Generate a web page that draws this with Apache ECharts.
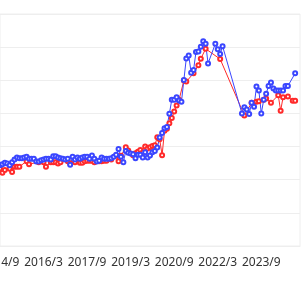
<!DOCTYPE html>
<html>
<head>
<meta charset="utf-8">
<script src="https://cdn.jsdelivr.net/npm/echarts@6/dist/echarts.min.js"></script>
<style>
html,body{margin:0;padding:0;background:#fff;}
#main{width:306px;height:281px;}
</style>
</head>
<body>
<div id="main"></div>
<script>
// Monthly categories 2014/9 .. 2025/1
const categories = [];
for (let y = 2014, m = 9; y < 2025 || (y === 2025 && m <= 1); ) {
  categories.push(y + '/' + m);
  m++; if (m > 12) { m = 1; y++; }
}

const blueValues = [
  24.4,24.7,25.1,24.9,24.4,25.3,26.1,26.7,26.5,26.5,26.7,26.9,
  26.3,26.3,26.3,25.5,25.5,25.9,26.1,26.3,26.3,26.1,27.1,27.1,
  26.7,26.5,26.3,26.1,26.3,24.5,26.9,26.1,26.7,26.3,26.7,26.9,
  26.9,26.3,27.3,26.3,25.5,25.7,26.7,26.3,26.3,26.3,26.5,26.9,
  27.5,29.3,26.9,25.3,28.7,28.1,27.9,27.7,26.5,27.5,27.5,26.7,
  28.3,26.7,27.3,28.3,28.7,29.7,32.7,34.1,35.5,35.9,39.9,44.1,
  44.1,44.9,43.9,43.5,50.1,56.6,57.5,52.3,53.1,58.5,58.7,60.1,
  61.8,61.0,55.1,null,null,61.0,59.4,57.9,60.3,null,null,null,
  null,null,null,null,40.0,41.9,41.2,39.8,43.2,42.0,48.1,46.9,
  40.0,44.1,45.9,48.3,49.3,47.5,46.9,46.9,46.9,46.9,48.3,48.3,
  null,null,52.1,null,null
];

const redValues = [
  23.4,22.1,22.9,null,23.3,22.3,23.9,23.9,23.9,null,null,25.6,
  24.7,null,null,null,25.3,null,25.3,23.9,null,25.3,25.3,25.3,
  24.9,25.3,null,null,25.6,24.9,null,25.3,null,25.1,25.1,25.6,
  25.7,25.7,25.7,25.3,null,25.6,25.6,25.7,25.7,null,26.1,null,
  27.2,25.6,27.2,null,29.8,28.8,null,27.4,28.0,28.4,29.0,28.2,
  30.0,29.4,29.8,30.2,30.4,32.8,32.2,27.4,34.8,35.4,37.0,38.6,
  40.6,42.4,44.1,null,49.9,49.6,null,null,52.1,null,54.5,56.5,
  null,59.5,null,null,null,null,null,56.4,null,null,null,null,
  null,null,null,null,null,39.4,null,null,43.2,null,43.5,43.7,
  null,44.1,44.5,null,43.2,null,null,45.5,40.8,44.9,null,45.1,
  null,43.8,43.8,null,null
];

const chart = echarts.init(document.getElementById('main'), null, {renderer: 'canvas'});
chart.setOption({
  animation: false,
  grid: {left: 0, right: 6, top: 14, bottom: 35, show: true, borderColor: '#eeeeee', borderWidth: 1,
         containLabel: false, outerBoundsMode: 'none'},
  xAxis: {
    type: 'category',
    data: categories,
    boundaryGap: false,
    axisLine: {lineStyle: {color: '#eeeeee'}},
    axisTick: {show: false},
    axisLabel: {interval: 17, color: '#333', fontSize: 12, fontFamily: 'Noto Sans', margin: 11,
                hideOverlap: false},
    splitLine: {show: false}
  },
  yAxis: {
    type: 'value',
    min: 0, max: 70, interval: 10,
    axisLabel: {show: false},
    axisLine: {show: false},
    axisTick: {show: false},
    splitLine: {lineStyle: {color: '#eeeeee'}}
  },
  series: [
    {
      type: 'line', data: redValues, connectNulls: true,
      symbol: 'emptyCircle', symbolSize: 4, showSymbol: true, showAllSymbol: true,
      lineStyle: {color: '#ff2a2a', width: 1},
      itemStyle: {color: '#ff2a2a', borderWidth: 1}
    },
    {
      type: 'line', data: blueValues, connectNulls: true,
      symbol: 'emptyCircle', symbolSize: 4, showSymbol: true, showAllSymbol: true,
      lineStyle: {color: '#3a46ff', width: 1},
      itemStyle: {color: '#3a46ff', borderWidth: 1}
    }
  ]
});
</script>
</body>
</html>
